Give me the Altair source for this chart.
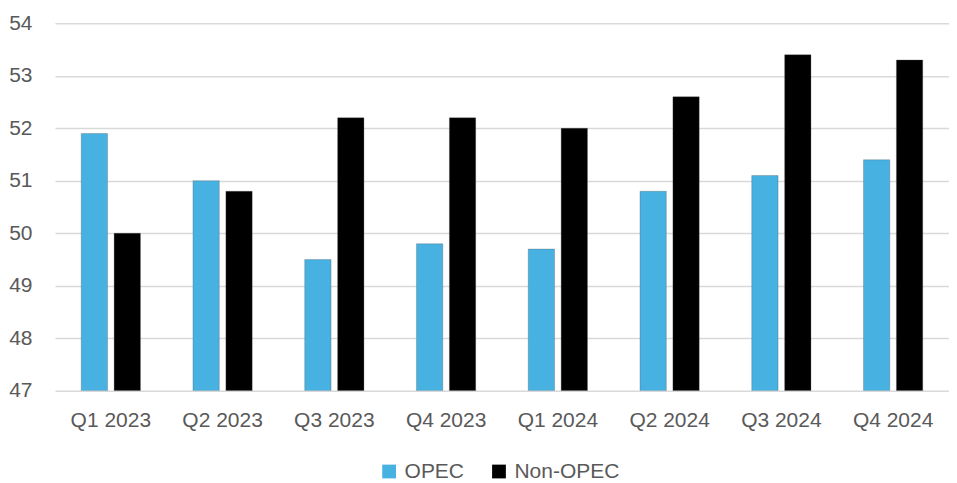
import altair as alt
import pandas as pd

quarters = ["Q1 2023", "Q2 2023", "Q3 2023", "Q4 2023", "Q1 2024", "Q2 2024", "Q3 2024", "Q4 2024"]
opec = [51.9, 51.0, 49.5, 49.8, 49.7, 50.8, 51.1, 51.4]
non_opec = [50.0, 50.8, 52.2, 52.2, 52.0, 52.6, 53.4, 53.3]
series = ["OPEC", "Non-OPEC"]
colors = ["#47B1E1", "#000000"]

rows = []
for q, a, b in zip(quarters, opec, non_opec):
    rows.append({"quarter": q, "series": "OPEC", "value": a})
    rows.append({"quarter": q, "series": "Non-OPEC", "value": b})
df = pd.DataFrame(rows)

font = "Liberation Sans"
txt = "#595959"
fs = 21

chart = alt.Chart(df).mark_bar(clip=True, stroke="#555555", strokeWidth=0.6, strokeOpacity=0.5).encode(
    x=alt.X("quarter:N", sort=quarters, title=None,
            scale=alt.Scale(paddingInner=0.47, paddingOuter=0.235),
            axis=alt.Axis(labelAngle=0, labelFontSize=fs, labelColor=txt, labelFont=font,
                          ticks=False, domain=False, labelPadding=19, grid=False)),
    xOffset=alt.XOffset("series:N", sort=series, scale=alt.Scale(paddingInner=0.2, paddingOuter=0)),
    y=alt.Y("value:Q", title=None,
            scale=alt.Scale(domain=[47, 54], nice=False, zero=False),
            axis=alt.Axis(values=[47, 48, 49, 50, 51, 52, 53, 54], labelFontSize=fs, labelColor=txt,
                          labelFont=font, ticks=False, domain=False, labelPadding=23,
                          gridColor="#D9D9D9", gridWidth=1.5)),
    y2=alt.datum(47),
    color=alt.Color("series:N", sort=series,
                    scale=alt.Scale(domain=series, range=colors),
                    legend=alt.Legend(orient="none", legendX=324, legendY=438, direction="horizontal",
                                      title=None, symbolType="square", symbolSize=190,
                                      symbolStrokeWidth=0, labelFontSize=fs, labelColor=txt,
                                      labelFont=font, columnPadding=24, labelOffset=5, symbolOpacity=1)),
).properties(
    width=895, height=368,
    padding={"left": 0, "top": 4, "right": 0, "bottom": 0},
    background="white",
).configure_view(stroke=None)

chart.save("out.html", embed_options={"renderer": "svg", "actions": False})
